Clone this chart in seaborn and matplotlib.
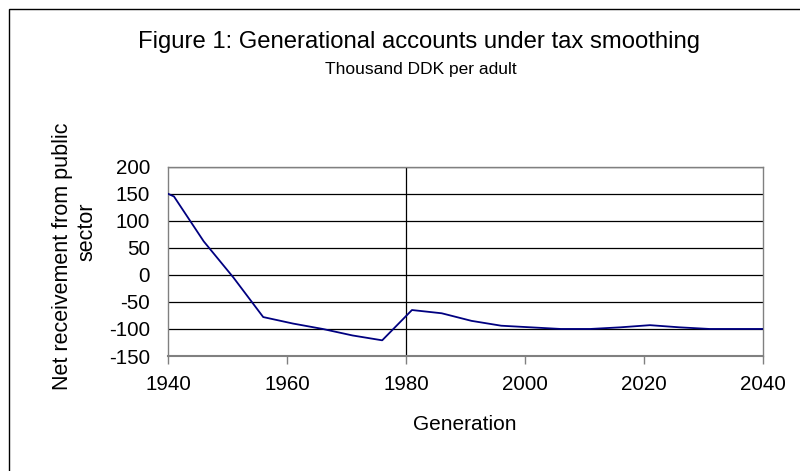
import matplotlib
matplotlib.use("Agg")
import matplotlib.pyplot as plt
import seaborn as sns
import pandas as pd
from matplotlib.patches import Rectangle

years = [1940, 1941, 1946, 1951, 1956, 1961, 1966, 1971, 1976, 1981, 1986,
         1991, 1996, 2001, 2006, 2011, 2016, 2021, 2026, 2031, 2036, 2040]
values = [150, 145, 62, -5, -78, -90, -100, -112, -121, -65, -71,
          -85, -94, -97, -100, -100, -97, -93, -97, -100, -100, -100]
y_ticks = [-150, -100, -50, 0, 50, 100, 150, 200]
x_ticks = [1940, 1960, 1980, 2000, 2020, 2040]

title = "Figure 1: Generational accounts under tax smoothing"
subtitle = "Thousand DDK per adult"
xlabel = "Generation"
ylabel_lines = ["Net receivement from public", "sector"]

sns.set_style("white")
plt.rcParams["font.family"] = ["Liberation Sans", "DejaVu Sans"]
plt.rcParams["text.color"] = "black"
plt.rcParams["xtick.color"] = "black"
plt.rcParams["ytick.color"] = "black"
plt.rcParams["axes.unicode_minus"] = False

W, H = 800, 471


def fx(x):
    return x / W


def fy(y):
    return 1 - y / H


df = pd.DataFrame({"Generation": years, "Value": values})

fig = plt.figure(figsize=(8, 4.71), dpi=100)
ax = fig.add_axes([fx(168), fy(356), fx(763) - fx(168), fy(166.7) - fy(356)])

for yv in y_ticks:
    ax.axhline(yv, color="black", lw=0.9, zorder=1)
ax.axvline(1980, color="black", lw=0.9, zorder=1)

sns.lineplot(data=df, x="Generation", y="Value", ax=ax, color="#000080",
             lw=1.3, zorder=3)

ax.set_xlim(1940, 2040)
ax.set_ylim(-150, 200)
ax.set_xticks(x_ticks)
ax.set_yticks(y_ticks)
ax.tick_params(axis="x", labelsize=14.8, length=6, width=1, color="#808080",
               direction="out", pad=8, bottom=True)
ax.tick_params(axis="y", labelsize=14.8, length=0, pad=13)
for s in ax.spines.values():
    s.set_color("#808080")
    s.set_linewidth(1)
ax.spines["bottom"].set_linewidth(1.5)
ax.set_xlabel("")
ax.set_ylabel("")

fig.text(fx(465), fy(425), xlabel, ha="center", va="center", fontsize=15)
fig.text(fx(63), fy(256.7), ylabel_lines[0], ha="center", va="center",
         fontsize=15.5, rotation=90)
fig.text(fx(86.7), fy(231.7), ylabel_lines[1], ha="center", va="center",
         fontsize=15.5, rotation=90)

fig.text(fx(419.5), fy(48.3), title, ha="center", va="baseline", fontsize=17.2)
fig.text(fx(421), fy(74.3), subtitle, ha="center", va="baseline", fontsize=12.5)

fig.patches.append(Rectangle((fx(9), -0.05), 1.2, fy(9) + 0.05,
                             transform=fig.transFigure, fill=False,
                             edgecolor="black", lw=1))

fig.savefig("out.png", dpi=100)
